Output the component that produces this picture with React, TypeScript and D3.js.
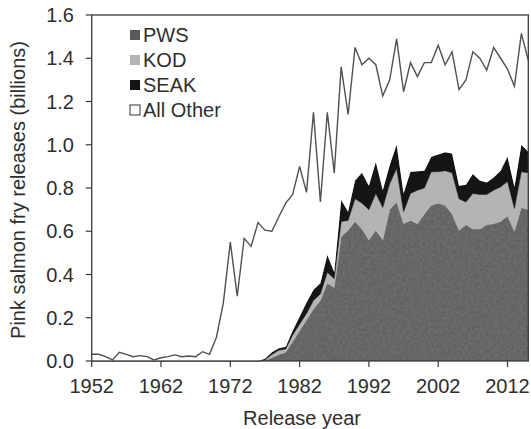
import React from "react";
import * as d3 from "d3";

const years = [
  1952, 1953, 1954, 1955, 1956, 1957, 1958, 1959, 1960, 1961, 1962, 1963, 1964, 1965, 1966, 1967,
  1968, 1969, 1970, 1971, 1972, 1973, 1974, 1975, 1976, 1977, 1978, 1979, 1980, 1981, 1982, 1983,
  1984, 1985, 1986, 1987, 1988, 1989, 1990, 1991, 1992, 1993, 1994, 1995, 1996, 1997, 1998, 1999,
  2000, 2001, 2002, 2003, 2004, 2005, 2006, 2007, 2008, 2009, 2010, 2011, 2012, 2013, 2014, 2015,
];

const zeros1952to1976 = [0, 0, 0, 0, 0, 0, 0, 0, 0, 0, 0, 0, 0, 0, 0, 0, 0, 0, 0, 0, 0, 0, 0, 0, 0];

const pws = zeros1952to1976.concat([
  0.003, 0.015, 0.03, 0.04, 0.09, 0.14, 0.19, 0.24, 0.28, 0.36, 0.34, 0.575, 0.605, 0.645, 0.61,
  0.56, 0.605, 0.56, 0.7, 0.735, 0.635, 0.65, 0.635, 0.68, 0.72, 0.73, 0.72, 0.68, 0.605, 0.63,
  0.61, 0.61, 0.63, 0.635, 0.645, 0.67, 0.6, 0.71, 0.7,
]);

const kod = zeros1952to1976.concat([
  0.002, 0.015, 0.02, 0.015, 0.03, 0.03, 0.03, 0.04, 0.03, 0.05, 0.04, 0.07, 0.045, 0.105, 0.12,
  0.14, 0.17, 0.15, 0.12, 0.155, 0.055, 0.125, 0.155, 0.12, 0.155, 0.145, 0.16, 0.19, 0.145, 0.105,
  0.165, 0.16, 0.14, 0.155, 0.16, 0.16, 0.105, 0.165, 0.17,
]);

const seak = zeros1952to1976.concat([
  0.005, 0.01, 0.009, 0.011, 0.02, 0.035, 0.05, 0.05, 0.05, 0.08, 0.03, 0.1, 0.04, 0.085, 0.14,
  0.11, 0.145, 0.08, 0.085, 0.11, 0.085, 0.1, 0.088, 0.08, 0.07, 0.08, 0.085, 0.09, 0.06, 0.08,
  0.09, 0.065, 0.055, 0.058, 0.075, 0.115, 0.1, 0.125, 0.098,
]);

const allOther = [
  0.031, 0.031, 0.02, 0.005, 0.04, 0.031, 0.02, 0.025, 0.02, 0.005, 0.015, 0.02, 0.028, 0.02,
  0.023, 0.02, 0.043, 0.031, 0.11, 0.27, 0.55, 0.3, 0.567, 0.53, 0.64, 0.595, 0.56, 0.608, 0.664,
  0.63, 0.695, 0.51, 0.82, 0.375, 0.66, 0.46, 0.615, 0.45, 0.615, 0.5, 0.59, 0.45, 0.435, 0.395,
  0.49, 0.47, 0.505, 0.437, 0.5, 0.435, 0.505, 0.405, 0.47, 0.445, 0.485, 0.565, 0.565, 0.52,
  0.602, 0.52, 0.405, 0.465, 0.515, 0.422,
];

const seriesKeys = ["PWS", "KOD", "SEAK", "All Other"];
const seriesFills = ["#5a5a5a", "#b4b4b4", "#151515", "#ffffff"];
const yTicks = [0, 0.2, 0.4, 0.6, 0.8, 1.0, 1.2, 1.4, 1.6];
const xTicks = [1952, 1962, 1972, 1982, 1992, 2002, 2012];

const W = 531;
const H = 429;
const left = 91.7;
const right = 528.3;
const top = 15;
const bottom = 361;
const FONT = "'Liberation Sans', Arial, sans-serif";
const TXT = "#2e2e2e";

export default function App() {
  const x = d3.scaleLinear().domain([1952, 2015]).range([left, right]);
  const y = d3.scaleLinear().domain([0, 1.6]).range([bottom, top]);

  const table = years.map((yr, i) => ({
    year: yr,
    PWS: pws[i],
    KOD: kod[i],
    SEAK: seak[i],
    "All Other": allOther[i],
  }));
  const stacked = d3.stack<any>().keys(seriesKeys)(table);

  const area = d3
    .area<any>()
    .x((d) => x(d.data.year))
    .y0((d) => y(d[0]))
    .y1((d) => y(d[1]));
  const topLine = d3
    .line<any>()
    .x((d) => x(d.data.year))
    .y((d) => y(d[1]));

  const legendX = 130;
  const legendY0 = 35;
  const legendDy = 25;

  return (
    <svg
      width={W}
      height={H}
      style={{ position: "absolute", left: 0, top: 0, background: "#fff" }}
      fontFamily={FONT}
    >
      <defs>
        <filter id="grain" x="0" y="0" width="100%" height="100%">
          <feTurbulence type="fractalNoise" baseFrequency="0.35" numOctaves="2" seed="3" result="n" />
          <feColorMatrix
            in="n"
            type="matrix"
            values="0 0 0 0 0.3  0 0 0 0 0.3  0 0 0 0 0.3  0 0 0 0.35 0"
            result="nc"
          />
          <feComposite in="nc" in2="SourceGraphic" operator="in" result="nm" />
          <feMerge>
            <feMergeNode in="SourceGraphic" />
            <feMergeNode in="nm" />
          </feMerge>
        </filter>
      </defs>

      {stacked.map((s, i) => (
        <path
          key={s.key}
          d={area(s) || ""}
          fill={seriesFills[i]}
          stroke={i === 3 ? "none" : seriesFills[i]}
          strokeWidth={0.5}
          filter={i === 0 ? "url(#grain)" : undefined}
        />
      ))}
      <path d={topLine(stacked[3]) || ""} fill="none" stroke="#505050" strokeWidth={1.4} />

      {/* frame */}
      <rect x={left} y={top} width={right - left} height={bottom - top} fill="none" stroke="#3a3a3a" strokeWidth={1.3} />

      {/* y axis */}
      {yTicks.map((t) => (
        <g key={t}>
          <line x1={left - 6} x2={left} y1={y(t)} y2={y(t)} stroke="#3a3a3a" strokeWidth={1.2} />
          <text x={74} y={y(t) + 7} textAnchor="end" fontSize={20} fill={TXT}>
            {d3.format(".1f")(t)}
          </text>
        </g>
      ))}

      {/* x axis */}
      {xTicks.map((t) => (
        <g key={t}>
          <line x1={x(t)} x2={x(t)} y1={bottom} y2={bottom + 6} stroke="#3a3a3a" strokeWidth={1.2} />
          <text x={x(t)} y={393} textAnchor="middle" fontSize={20} fill={TXT}>
            {t}
          </text>
        </g>
      ))}

      <text x={(left + right) / 2 - 8} y={425} textAnchor="middle" fontSize={20} fill={TXT}>
        Release year
      </text>
      <text
        transform={`translate(25, ${(top + bottom) / 2 + 2}) rotate(-90)`}
        textAnchor="middle"
        fontSize={20}
        fill={TXT}
      >
        Pink salmon fry releases (billions)
      </text>

      {/* legend */}
      {seriesKeys.map((k, i) => (
        <g key={k}>
          <rect
            x={legendX}
            y={legendY0 + i * legendDy - 5}
            width={10}
            height={10}
            fill={seriesFills[i]}
            stroke={i === 3 ? "#333" : "none"}
            strokeWidth={1}
          />
          <text x={legendX + 13} y={legendY0 + i * legendDy + 7} fontSize={20} fill={TXT}>
            {k}
          </text>
        </g>
      ))}
    </svg>
  );
}
